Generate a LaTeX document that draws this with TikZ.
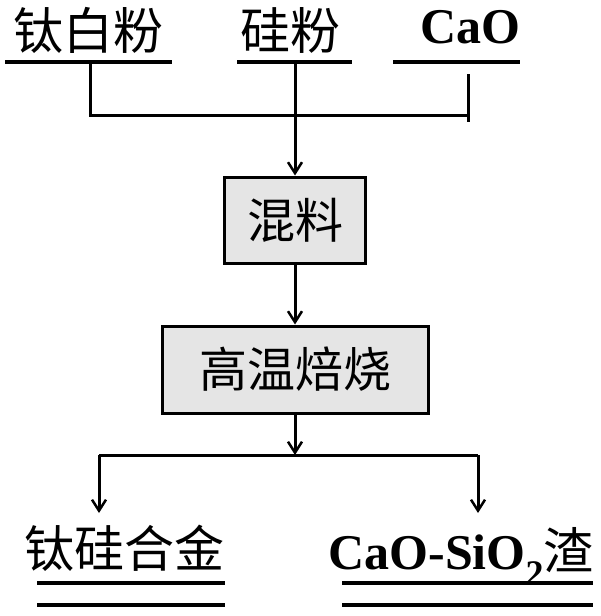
\documentclass[tikz,border=0pt]{standalone}
\usepackage{fontspec}
\setmainfont{Liberation Serif}
\newfontfamily\cjk{Noto Sans CJK SC}
\usetikzlibrary{arrows.meta}
\begin{document}
\begin{tikzpicture}[x=1pt,y=-1pt,
  lbl/.style={inner sep=0pt,anchor=base,font=\fontsize{50}{54}\selectfont},
  ul/.style={line width=4pt},
  conn/.style={line width=3pt},
  arr/.style={line width=3pt,-{Straight Barb[length=11pt,width=14pt,line width=2.5pt]}},
  procbox/.style={draw,line width=3pt,fill=gray!20,inner sep=0pt,font=\fontsize{48}{52}\selectfont\cjk}]
\useasboundingbox (0,0) rectangle (600,616);
% top labels
\node[lbl] (t1) at (88,49) {\cjk 钛白粉};
\node[lbl] (t2) at (290,49) {\cjk 硅粉};
\node[lbl] (t3) at (470,43) {\bfseries CaO};
% underlines
\coordinate (u1a) at (5,62);   \coordinate (u1b) at (172,62);
\coordinate (u2a) at (237,62); \coordinate (u2b) at (352,62);
\coordinate (u3a) at (393,62); \coordinate (u3b) at (520,62);
\draw[ul] (u1a) -- (u1b);
\draw[ul] (u2a) -- (u2b);
\draw[ul] (u3a) -- (u3b);
% joins
\coordinate (j1) at (90,62);
\coordinate (j2) at (295,62);
\coordinate (j3) at (468,74);
\coordinate (hub) at (295,115);
\coordinate (tick) at (468,122);
% boxes
\node[procbox,minimum width=141pt,minimum height=86pt] (mix) at (295,220) {混料};
\node[procbox,minimum width=266pt,minimum height=87pt] (roast) at (295,369.5) {高温焙烧};
\draw[conn] (j1) |- (hub) -| (tick);
\draw[conn] (j3) -- (tick);
\draw[conn] (j2) -- (hub);
\draw[arr] (hub) -- (hub |- mix.north);
\draw[arr] (mix.south) -- (roast.north);
% split
\coordinate (split) at (295,455);
\coordinate (sl) at (99,455);
\coordinate (sr) at (478,455);
\draw[conn] (sl) -- (sr);
\draw[arr] (roast.south) -- (split);
% bottom labels
\node[lbl] (b1) at (124,567) {\cjk 钛硅合金};
\node[lbl] (b2) at (461,569) {\bfseries CaO-SiO{\raisebox{-0.32em}{\fontsize{36}{40}\selectfont 2}}{\mdseries\cjk 渣}};
\draw[arr] (sl) -- (sl |- 0,513);
\draw[arr] (sr) -- (sr |- 0,513);
\draw[ul] (37,583) -- (225,583);
\draw[ul] (37,605) -- (225,605);
\draw[ul] (342,583) -- (593,583);
\draw[ul] (342,605) -- (593,605);
\end{tikzpicture}
\end{document}
